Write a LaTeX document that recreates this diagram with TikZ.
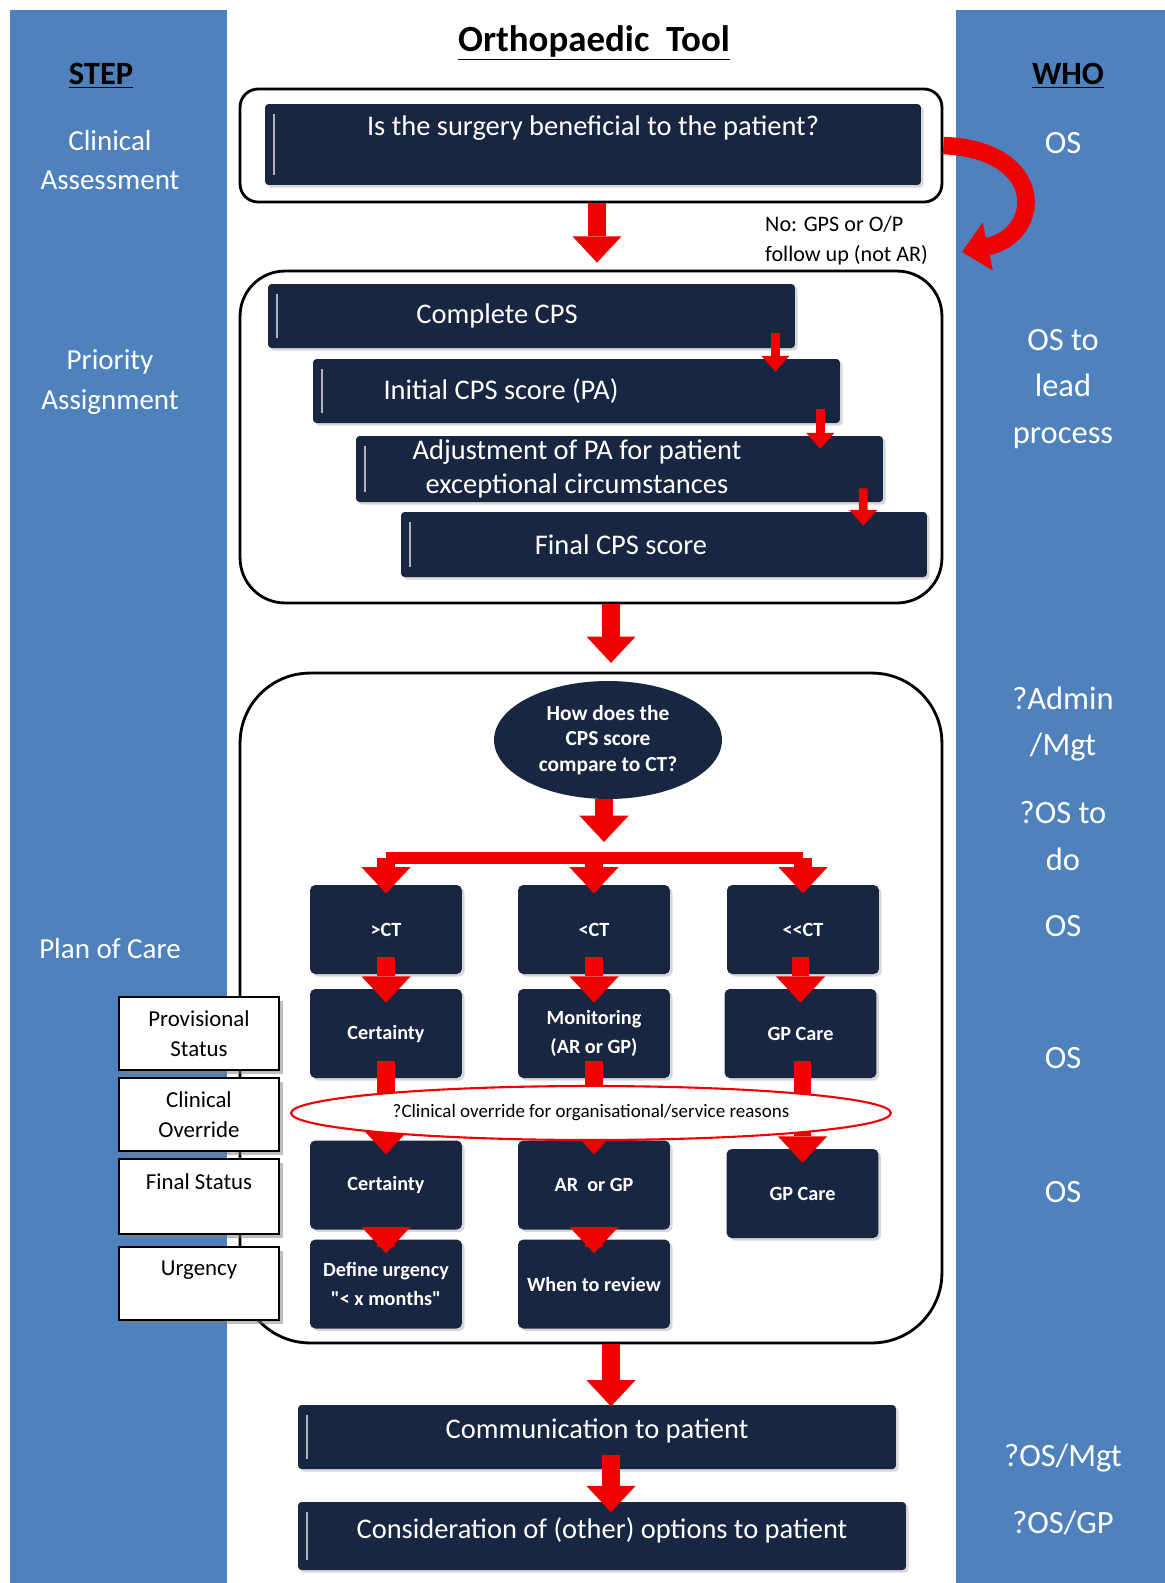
\documentclass[tikz,border=0pt]{standalone}
\usepackage{fontspec}
\setmainfont{Carlito}
\usetikzlibrary{arrows.meta,shapes.geometric,shadows,calc}
\definecolor{stepblue}{RGB}{79,129,189}
\definecolor{navybox}{RGB}{24,38,66}
\definecolor{flowred}{RGB}{240,0,0}

\begin{document}
\begin{tikzpicture}[x=0.02cm, y=-0.02cm,
    heading/.style={font=\bfseries\fontsize{18.5}{22}\selectfont},
    steplabel/.style={text=white, align=center, font=\fontsize{16.5}{22.5}\selectfont},
    wholabel/.style={text=white, align=center, font=\fontsize{18.5}{26.5}\selectfont},
    frame/.style={draw=black, line width=1.6pt, fill=white, inner sep=0pt},
    darkbar/.style={fill=navybox, inner sep=0pt, rounded corners=2pt,
        drop shadow={opacity=0.3, shadow xshift=1.5pt, shadow yshift=-1.5pt},
        path picture={\draw[white!65!navybox, line width=1.5pt]
            ($(path picture bounding box.north west)+(9,10)$) --
            ($(path picture bounding box.south west)+(9,-10)$);}},
    bartext/.style={text=white, align=center, font=\fontsize{16.2}{19}\selectfont},
    smallbox/.style={fill=navybox, text=white, inner sep=0pt, rounded corners=3pt,
        minimum width=3.04cm, minimum height=1.78cm, align=center,
        font=\bfseries\fontsize{11.5}{16.5}\selectfont,
        drop shadow={opacity=0.3, shadow xshift=1.5pt, shadow yshift=-1.5pt}},
    question/.style={ellipse, fill=navybox, text=white, inner sep=0pt,
        minimum width=4.56cm, minimum height=2.36cm, align=center,
        font=\bfseries\fontsize{12.2}{14.5}\selectfont},
    override/.style={ellipse, draw=flowred, line width=1.2pt, fill=white, inner sep=0pt,
        minimum width=12cm, minimum height=1.08cm, font=\fontsize{10.8}{12}\selectfont},
    statusbox/.style={draw=black, line width=0.8pt, fill=white, inner sep=0pt,
        minimum width=3.2cm, minimum height=1.46cm, align=center,
        font=\fontsize{13}{17}\selectfont,
        drop shadow={opacity=0.5, shadow xshift=2pt, shadow yshift=-2pt}},
    notext/.style={align=left, font=\fontsize{12.6}{17}\selectfont},
    bigarrow/.style={draw=flowred, line width=10pt, -{Triangle[width=28pt,length=15pt,line width=0pt]}},
    tinyarrow/.style={draw=flowred, line width=5pt, -{Triangle[width=16pt,length=9pt,line width=0pt]}},
    forkbar/.style={draw=flowred, line width=7pt}]

\useasboundingbox (0,0) rectangle (1165,1583);

% side columns
\fill[stepblue] (10,10) rectangle (227,1583);
\fill[stepblue] (956,10) rectangle (1165,1583);

\node[heading, font=\bfseries\fontsize{21}{24}\selectfont] (title) at (594,43) {\underline{Orthopaedic\ \ Tool}};
\node[heading] (step) at (101,76) {\underline{STEP}};
\node[heading] (who) at (1068,76) {\underline{WHO}};

% step labels
\node[steplabel] (stepA) at (110,160) {Clinical\\Assessment};
\node[steplabel] (stepB) at (110,382) {Priority\\Assignment};
\node[steplabel] (stepC) at (110,949) {Plan of Care};

% who labels
\node[wholabel] (whoA) at (1063,143) {OS};
\node[wholabel] (whoB) at (1063,389) {OS to\\lead\\process};
\node[wholabel] (whoC) at (1063,724) {?Admin\\/Mgt};
\node[wholabel] (whoD) at (1063,836) {?OS to\\do};
\node[wholabel] (whoE) at (1063,926) {OS};
\node[wholabel] (whoF) at (1063,1058) {OS};
\node[wholabel] (whoG) at (1063,1192) {OS};
\node[wholabel] (whoH) at (1063,1458) {?OS/Mgt};
\node[wholabel] (whoI) at (1063,1523) {?OS/GP};

% clinical assessment
\node[frame, rounded corners=0.36cm, minimum width=14.04cm, minimum height=2.26cm] (frameA) at (591,145.5) {};
\node[darkbar, minimum width=13.12cm, minimum height=1.62cm,
    label={[bartext,yshift=0.32cm]center:Is the surgery beneficial to the patient?}] (surgery) at (593,144.5) {};

\coordinate (noend) at (962,252);
\draw[bigarrow, line width=10pt] (frameA.east) .. controls (1048,150) and (1042,235) .. (noend);
\node[notext, anchor=west] (noGP) at (759,241) {No: GPS or O/P\\follow up (not AR)};

% priority assignment
\node[frame, rounded corners=0.9cm, minimum width=14.04cm, minimum height=6.64cm] (frameB) at (591,437) {};
\draw[bigarrow, shorten >=4pt] ($(frameA.south)+(6,0)$) -- ($(frameB.north)+(6,0)$);

\node[darkbar, minimum width=10.54cm, minimum height=1.28cm,
    label={[bartext,xshift=-0.69cm]center:Complete CPS}] (cpsA) at (531.5,316) {};
\node[darkbar, minimum width=10.54cm, minimum height=1.28cm,
    label={[bartext,xshift=-1.51cm]center:Initial CPS score (PA)}] (cpsB) at (576.5,391) {};
\node[darkbar, minimum width=10.54cm, minimum height=1.32cm,
    label={[bartext,xshift=-0.85cm]center:Adjustment of PA for patient\\exceptional circumstances}] (cpsC) at (619.5,469) {};
\node[darkbar, minimum width=10.52cm, minimum height=1.3cm,
    label={[bartext,xshift=-0.86cm]center:Final CPS score}] (cpsD) at (664,544.5) {};

\draw[tinyarrow] ($(cpsA.south east)+(-20,-15)$) -- ($(cpsB.north east)+(-65,13)$);
\draw[tinyarrow] ($(cpsB.south east)+(-20,-14)$) -- ($(cpsC.north east)+(-63,13)$);
\draw[tinyarrow] ($(cpsC.south east)+(-20,-14)$) -- ($(cpsD.north east)+(-64,14)$);

% plan of care
\node[frame, rounded corners=1.4cm, minimum width=14.04cm, minimum height=13.4cm] (frameC) at (591,1008) {};
\draw[bigarrow, shorten >=5pt] ($(frameB.south)+(20,0)$) -- ($(frameC.north)+(20,0)$);

\node[question] (ctq) at (608,740) {How does the\\CPS score\\compare to CT?};

\node[smallbox] (gtct) at (386,929.5) {>CT};
\node[smallbox] (ltct) at (594,929.5) {<CT};
\node[smallbox] (llct) at (803,929.5) {{<}{<}CT};

\node[smallbox] (certA) at (386,1033.5) {Certainty};
\node[smallbox] (monit) at (594,1033.5) {Monitoring\\(AR or GP)};
\node[smallbox] (gpA) at (800.5,1033.5) {GP Care};

\node[smallbox] (certB) at (386,1185) {Certainty};
\node[smallbox] (arGP) at (594,1185) {AR\ \ or GP};
\node[smallbox] (gpB) at (802.5,1193.5) {GP Care};

\node[smallbox] (urgent) at (386,1284) {Define urgency\\\textquotedbl< x months\textquotedbl};
\node[smallbox] (review) at (594,1284) {When to review};

\coordinate (fork) at (604,858);
\coordinate (forkL) at (gtct.north |- fork);
\coordinate (forkR) at (llct.north |- fork);
\draw[bigarrow] (ctq.south -| fork) -- ($(fork)+(0,-16)$);
\draw[forkbar] (forkL) -- (forkR);
\foreach \b in {gtct,ltct,llct}
    \draw[bigarrow, shorten >=-5pt] (\b.north |- fork) -- (\b.north);

\draw[bigarrow, shorten <=-10pt, shorten >=-8pt] (gtct.south) -- (certA.north);
\draw[bigarrow, shorten <=-10pt, shorten >=-8pt] (ltct.south) -- (monit.north);
\draw[bigarrow, shorten <=-10pt, shorten >=-8pt] (llct.south -| gpA) -- (gpA.north);

\draw[bigarrow, shorten <=-10pt, shorten >=-8pt] (certA.south) -- (certB.north);
\draw[bigarrow, shorten <=-10pt, shorten >=-8pt] (monit.south) -- (arGP.north);
\draw[bigarrow, shorten <=-10pt, shorten >=-8pt] (gpA.south -| gpB) -- (gpB.north);

\node[override] (override) at (591,1113) {?Clinical override for organisational/service reasons};

\draw[bigarrow, shorten <=-10pt, shorten >=-8pt] (certB.south) -- (urgent.north);
\draw[bigarrow, shorten <=-10pt, shorten >=-8pt] (arGP.south) -- (review.north);

% status boxes
\node[statusbox] (prov) at (199,1033.5) {Provisional\\Status};
\node[statusbox] (clin) at (199,1114.5) {Clinical\\Override};
\node[statusbox, minimum height=1.5cm] (final) at (199,1196.5) {Final Status\\~};
\node[statusbox] (urgency) at (199,1283.5) {Urgency\\~};

% communication
\node[darkbar, minimum width=11.96cm, minimum height=1.28cm,
    label={[bartext,yshift=0.12cm]center:Communication to patient}] (comm) at (597,1437) {};
\node[darkbar, minimum width=12.16cm, minimum height=1.36cm,
    label={[bartext,yshift=0.12cm]center:Consideration of (other) options to patient}] (cons) at (602,1536) {};

\draw[bigarrow, shorten >=-1pt] ($(frameC.south)+(20,0)$) -- ($(comm.north)+(14,0)$);
\draw[bigarrow, shorten <=-8pt, shorten >=-6pt] ($(comm.south)+(14,0)$) -- ($(cons.north)+(9,0)$);

\end{tikzpicture}
\end{document}
